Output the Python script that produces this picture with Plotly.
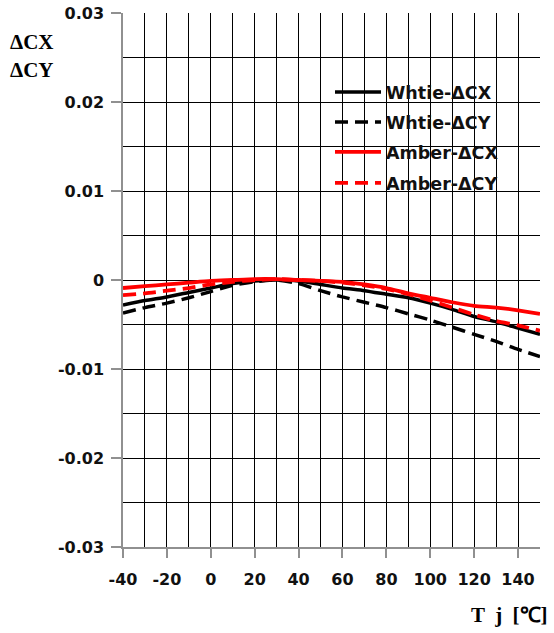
import plotly.graph_objects as go

# Junction temperature (°C)
tj = [-40, -30, -20, -10, 0, 10, 20, 30, 40, 50, 60, 70, 80, 90, 100, 110, 120, 130, 140, 150]

white_cx = [-0.0028, -0.0023, -0.0019, -0.0014, -0.0009, -0.0004, -0.0001, 0.0000, -0.0001, -0.0005,
            -0.0009, -0.0012, -0.0016, -0.0020, -0.0026, -0.0033, -0.0041, -0.0047, -0.0054, -0.0061]
white_cy = [-0.0037, -0.0031, -0.0026, -0.0020, -0.0013, -0.0006, -0.0002, 0.0000, -0.0004, -0.0012,
            -0.0019, -0.0025, -0.0031, -0.0038, -0.0045, -0.0053, -0.0061, -0.0069, -0.0078, -0.0086]
amber_cx = [-0.0009, -0.0007, -0.0005, -0.0003, -0.0001, 0.0000, 0.0001, 0.0001, 0.0000, -0.0001,
            -0.0002, -0.0005, -0.0009, -0.0015, -0.0020, -0.0025, -0.0029, -0.0031, -0.0034, -0.0038]
amber_cy = [-0.0017, -0.0015, -0.0012, -0.0009, -0.0005, -0.0002, 0.0000, 0.0001, 0.0000, -0.0001,
            -0.0003, -0.0006, -0.0010, -0.0016, -0.0023, -0.0031, -0.0039, -0.0046, -0.0051, -0.0057]

series_names = ["Whtie-\u0394CX", "Whtie-\u0394CY", "Amber-\u0394CX", "Amber-\u0394CY"]

x_tickvals = [-40, -20, 0, 20, 40, 60, 80, 100, 120, 140]
x_ticktext = ["-40", "-20", "0", "20", "40", "60", "80", "100", "120", "140"]
y_tickvals = [0.03, 0.02, 0.01, 0, -0.01, -0.02, -0.03]
y_ticktext = ["0.03", "0.02", "0.01", "0", "-0.01", "-0.02", "-0.03"]

fig = go.Figure()

styles = [
    dict(color="black", width=3.5, dash="solid"),
    dict(color="black", width=3.5, dash="13px,7px"),
    dict(color="#ff0000", width=3.8, dash="solid"),
    dict(color="#ff0000", width=3.8, dash="13px,7px"),
]
data = [white_cx, white_cy, amber_cx, amber_cy]
legends = ["legend", "legend2", "legend3", "legend4"]

for name, ys, st, lg in zip(series_names, data, styles, legends):
    fig.add_trace(go.Scatter(
        x=tj, y=ys, mode="lines", name=name,
        line=dict(color=st["color"], width=st["width"], dash=st["dash"], shape="spline", smoothing=0.6),
        legend=lg,
    ))

plot_left, plot_w = 123, 417
plot_top, plot_h = 13, 534
leg_font = dict(family="DejaVu Sans", size=17.5, color="#111111", weight="bold")
leg_y_px = [92, 122, 152, 183]
leg_common = dict(xanchor="left", yanchor="middle", bgcolor="rgba(0,0,0,0)",
                  borderwidth=0, font=leg_font, itemwidth=46)
layout_legends = {}
for lg, py in zip(legends, leg_y_px):
    layout_legends[lg] = dict(x=(330 - plot_left) / plot_w, y=1 - (py - plot_top) / plot_h, **leg_common)

tick_font = dict(family="DejaVu Sans", size=16, color="#111111", weight="bold")

fig.update_layout(
    width=554, height=633,
    margin=dict(l=plot_left, r=554 - plot_left - plot_w, t=plot_top, b=633 - plot_top - plot_h),
    paper_bgcolor="white", plot_bgcolor="white",
    showlegend=True,
    **layout_legends,
    xaxis=dict(
        range=[-40, 150], tickvals=x_tickvals, ticktext=x_ticktext, automargin=False,
        showgrid=True, gridcolor="black", gridwidth=1,
        minor=dict(dtick=10, tick0=-40, showgrid=True, gridcolor="black", gridwidth=1, ticks=""),
        zeroline=False, showline=True, linecolor="#909090", linewidth=1.5,
        ticks="outside", ticklen=9, tickcolor="#909090", tickwidth=1.5,
        tickfont=tick_font, ticklabelstandoff=8,
    ),
    yaxis=dict(
        range=[-0.03, 0.03], tickvals=y_tickvals, ticktext=y_ticktext, automargin=False,
        showgrid=True, gridcolor="black", gridwidth=1,
        minor=dict(dtick=0.005, tick0=0, showgrid=True, gridcolor="black", gridwidth=1, ticks=""),
        zeroline=True, zerolinecolor="black", zerolinewidth=1,
        showline=True, linecolor="#909090", linewidth=1.5,
        ticks="outside", ticklen=10, tickcolor="#909090", tickwidth=1.5,
        tickfont=tick_font, ticklabelstandoff=4,
    ),
)

title_font = dict(family="Liberation Serif", size=21, color="black", weight="bold")
fig.add_annotation(text="\u0394CX", xref="paper", yref="paper",
                   x=(32 - plot_left) / plot_w, y=1 - (42 - plot_top) / plot_h,
                   showarrow=False, font=title_font, xanchor="center", yanchor="middle")
fig.add_annotation(text="\u0394CY", xref="paper", yref="paper",
                   x=(32 - plot_left) / plot_w, y=1 - (70 - plot_top) / plot_h,
                   showarrow=False, font=title_font, xanchor="center", yanchor="middle")
fig.add_annotation(text="T  j  [\u2103]", xref="paper", yref="paper",
                   x=(550 - plot_left) / plot_w, y=1 - (615 - plot_top) / plot_h,
                   showarrow=False, font=dict(family="Liberation Serif", size=21, color="black", weight="bold"),
                   xanchor="right", yanchor="middle")

fig.write_html("out.html", config={"displayModeBar": False},
               post_script="document.body.style.margin='0px';document.body.style.overflow='hidden';")
